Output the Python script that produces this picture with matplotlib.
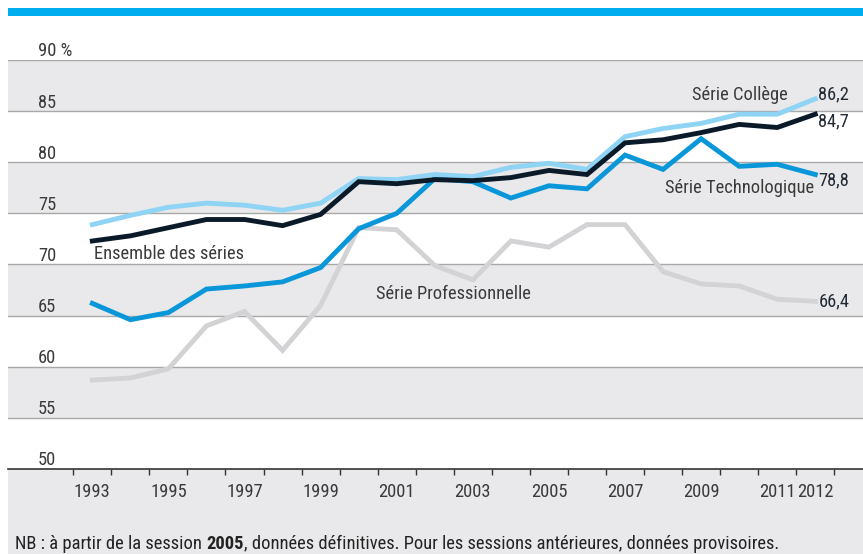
import matplotlib
matplotlib.use('Agg')
import matplotlib.pyplot as plt
from matplotlib import font_manager
from matplotlib.patches import Rectangle
from matplotlib.ticker import FixedLocator

# police étroite si disponible
dispo = {f.name for f in font_manager.fontManager.ttflist}
police = 'Liberation Sans'
for nom in ['Liberation Sans Narrow', 'DejaVu Sans Condensed', 'Roboto Condensed']:
    if nom in dispo:
        police = nom
        break
plt.rcParams['font.family'] = [police, 'DejaVu Sans']

# données (taux de réussite, %)
annees = list(range(1993, 2013))
college = [73.9, 74.8, 75.6, 76.0, 75.8, 75.3, 76.0, 78.4, 78.3, 78.8,
           78.6, 79.5, 79.9, 79.3, 82.5, 83.3, 83.8, 84.7, 84.7, 86.2]
ensemble = [72.3, 72.8, 73.6, 74.4, 74.4, 73.8, 74.9, 78.1, 77.9, 78.3,
            78.2, 78.5, 79.2, 78.8, 81.9, 82.2, 82.9, 83.7, 83.4, 84.7]
techno = [66.2, 64.6, 65.3, 67.6, 67.9, 68.3, 69.7, 73.5, 75.0, 78.4,
          78.1, 76.5, 77.7, 77.4, 80.7, 79.3, 82.3, 79.6, 79.8, 78.8]
pro = [58.7, 58.9, 59.8, 64.0, 65.4, 61.6, 66.0, 73.6, 73.4, 69.9,
       68.5, 72.3, 71.7, 73.9, 73.9, 69.3, 68.1, 67.9, 66.6, 66.4]
annees_affichees = [1993, 1995, 1997, 1999, 2001, 2003, 2005, 2007, 2009, 2011, 2012]
graduations = [50, 55, 60, 65, 70, 75, 80, 85, 90]

texte_gris = '#3a3a3a'
fs = 13.3

W, H = 863, 554
fig = plt.figure(figsize=(W / 100, H / 100), dpi=100)
fig.patch.set_facecolor('white')

# bandeau bleu en haut et fond gris sous le graphique (derrière les axes)
fig.add_artist(Rectangle((8 / W, (H - 16) / H), 1 - 8 / W, 8 / H,
                         transform=fig.transFigure, color='#00aeef', lw=0, zorder=-2))
fig.add_artist(Rectangle((8 / W, 0), 1 - 8 / W, (H - 469) / H,
                         transform=fig.transFigure, color='#e9e9eb', lw=0, zorder=-2))

ax = fig.add_axes([8 / W, (H - 469) / H, 1 - 8 / W, 409 / H])
ax.set_facecolor('white')
ax.set_ylim(50, 90)
ax.set_xlim(1990.784, 2013.254)

# bandes alternées
for b in [55, 65, 75, 85]:
    ax.axhspan(b, b + 5, color='#e9e9eb', lw=0, zorder=0)
for g in graduations[1:]:
    ax.axhline(g, color='#a8a8a8', lw=1, zorder=1)

for s in ['top', 'right', 'left']:
    ax.spines[s].set_visible(False)
ax.spines['bottom'].set_color('#333333')
ax.spines['bottom'].set_linewidth(1.2)

# courbes
lw = 3.5
ax.plot(annees, pro, color='#d3d3d5', lw=lw, zorder=3, solid_joinstyle='miter')
ax.plot(annees, techno, color='#0a97d9', lw=lw, zorder=4, solid_joinstyle='miter')
ax.plot(annees, college, color='#8fd4f5', lw=lw, zorder=5, solid_joinstyle='miter')
ax.plot(annees, ensemble, color='#0b1a29', lw=lw, zorder=6, solid_joinstyle='miter')

# axe des x : graduations entre les années, étiquettes au centre
ax.set_yticks([])
ax.xaxis.set_major_locator(FixedLocator(annees_affichees))
ax.set_xticklabels([str(a) for a in annees_affichees])
ax.xaxis.set_minor_locator(FixedLocator([a - 0.5 for a in annees] + [annees[-1] + 0.5]))
ax.tick_params(axis='x', which='major', length=0, pad=10, labelsize=fs, labelcolor=texte_gris)
ax.tick_params(axis='x', which='minor', length=4, width=1, color='#333333', direction='out')

# étiquettes de l'axe des y
for g in graduations:
    lab = '90 %' if g == 90 else str(g)
    ax.annotate(lab, xy=(30 / 855, g), xycoords=('axes fraction', 'data'),
                xytext=(0, 3.5), textcoords='offset pixels',
                ha='left', va='baseline', fontsize=fs, color=texte_gris)

# valeurs finales
for val, dy in [(college[-1], 4), (ensemble[-1], -7), (techno[-1], -6), (pro[-1], 0)]:
    ax.annotate(f'{val:.1f}'.replace('.', ','), xy=(annees[-1], val),
                xytext=(3, dy), textcoords='offset pixels',
                ha='left', va='center', fontsize=fs, color='#222a33', zorder=7)

# noms des séries
ax.text(2011.28, 86.57, 'Série Collège', ha='right', va='center', fontsize=fs, color=texte_gris)
ax.text(2011.97, 77.47, 'Série Technologique', ha='right', va='center', fontsize=fs, color=texte_gris)
ax.text(2000.45, 67.11, 'Série Professionnelle', ha='left', va='center', fontsize=fs, color=texte_gris)
ax.text(1993.04, 71.05, 'Ensemble des séries', ha='left', va='center', fontsize=fs, color=texte_gris)

# note en bas, avec 2005 en gras
t1 = fig.text(15 / W, 5 / H, 'NB : à partir de la session ', ha='left', va='baseline',
              fontsize=fs, color='#222222')
t2 = plt.annotate('2005', xy=(1, 0), xycoords=t1, ha='left', va='bottom',
                  fontsize=fs, fontweight='bold', color='#222222', annotation_clip=False)
plt.annotate(', données définitives. Pour les sessions antérieures, données provisoires.',
             xy=(1, 0), xycoords=t2, ha='left', va='bottom',
             fontsize=fs, color='#222222', annotation_clip=False)

fig.savefig('out.png', dpi=100)
